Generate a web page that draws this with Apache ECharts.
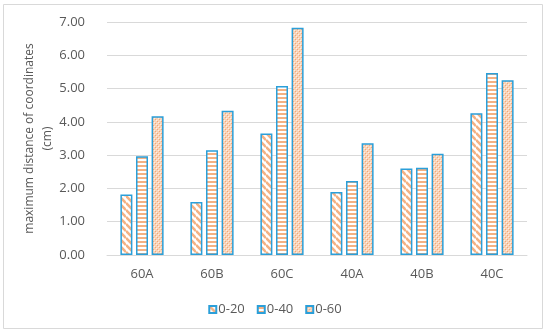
<!DOCTYPE html>
<html><head><meta charset="utf-8">
<script src="https://cdn.jsdelivr.net/npm/echarts@6/dist/echarts.min.js"></script>
<style>html,body{margin:0;padding:0;background:#fff}#c{width:550px;height:335px}</style>
</head><body><div id="c"></div>
<script>
const categories = ['60A','60B','60C','40A','40B','40C'];
const seriesNames = ['0-20','0-40','0-60'];
const s020 = [1.82, 1.59, 3.65, 1.89, 2.60, 4.26];
const s040 = [2.97, 3.15, 5.08, 2.22, 2.62, 5.47];
const s060 = [4.17, 4.33, 6.83, 3.36, 3.04, 5.25];
const yTicks = [0,1,2,3,4,5,6,7];

const ORANGE = '#f4b183';
const BLUE = '#2b9fd9';

function diagPattern(){
  const s = 7, c = document.createElement('canvas'); c.width = s; c.height = s;
  const g = c.getContext('2d');
  g.fillStyle = '#fff'; g.fillRect(0,0,s,s);
  g.strokeStyle = ORANGE; g.lineWidth = 2.6;
  for (const k of [-s,0,s]) { g.beginPath(); g.moveTo(0,k); g.lineTo(s,s+k); g.stroke(); }
  return c;
}
function horizPattern(){
  const c = document.createElement('canvas'); c.width = 4; c.height = 4;
  const g = c.getContext('2d');
  g.fillStyle = '#fff'; g.fillRect(0,0,4,4);
  g.fillStyle = ORANGE; g.fillRect(0,1,4,2);
  return c;
}
function checkPattern(){
  const c = document.createElement('canvas'); c.width = 4; c.height = 4;
  const g = c.getContext('2d');
  g.fillStyle = '#f9d3b8'; g.fillRect(0,0,4,4);
  g.fillStyle = '#fdf0e6'; g.fillRect(0,0,1,1); g.fillRect(2,2,1,1);
  g.fillStyle = '#f2a877'; g.fillRect(1,1,1,1); g.fillRect(3,3,1,1);
  return c;
}
const patterns = [diagPattern(), horizPattern(), checkPattern()];
const values = [s020, s040, s060];

const chart = echarts.init(document.getElementById('c'));
const font = '"Open Sans", "Noto Sans", sans-serif';
chart.setOption({
  animation: false,
  textStyle: { fontFamily: font },
  graphic: [{ type: 'rect', shape: { x: 3.5, y: 4.5, width: 539, height: 324 },
    style: { fill: 'none', stroke: '#d9d9d9', lineWidth: 1 }, silent: true }],
  grid: { left: 107, right: 23, top: 22, bottom: 80 },
  legend: {
    top: 298, left: 'center', itemWidth: 7, itemHeight: 7, itemGap: 12,
    icon: 'rect',
    textStyle: { color: '#595959', fontSize: 13, fontFamily: font, padding: [0,0,0,-3] },
    data: seriesNames
  },
  xAxis: {
    type: 'category', data: categories,
    axisLine: { lineStyle: { color: '#d9d9d9' } },
    axisTick: { show: false },
    axisLabel: { color: '#595959', fontSize: 13, margin: 13 }
  },
  yAxis: {
    type: 'value', min: 0, max: 7, interval: 1,
    name: 'maximum distance of coordinates\n(cm)',
    nameLocation: 'middle', nameGap: 50, nameRotate: 90, nameMoveOverlap: false,
    nameTextStyle: { color: '#595959', fontSize: 12, lineHeight: 18 },
    axisLine: { show: false }, axisTick: { show: false },
    splitLine: { lineStyle: { color: '#d9d9d9' } },
    axisLabel: { color: '#595959', fontSize: 13, margin: 22,
      formatter: v => yTicks.includes(v) ? v.toFixed(2) : '' }
  },
  series: seriesNames.map((n, i) => ({
    name: n, type: 'bar', data: values[i],
    barWidth: 12, barGap: '30%',
    itemStyle: { color: { image: patterns[i], repeat: 'repeat' }, borderColor: BLUE, borderWidth: 1.5 }
  }))
});
</script></body></html>
